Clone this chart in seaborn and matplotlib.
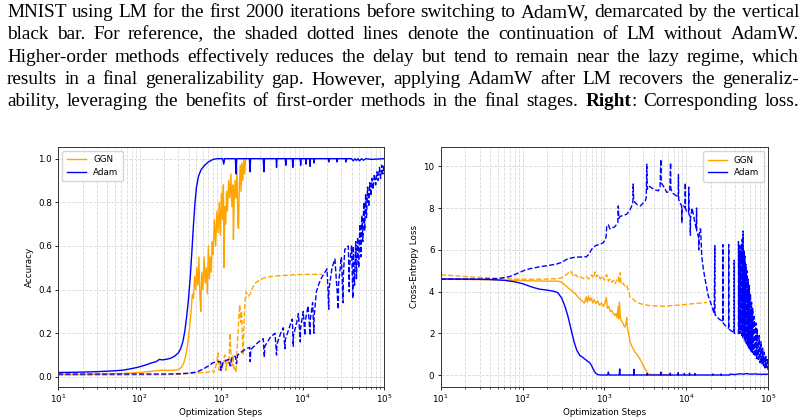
import matplotlib
matplotlib.use("Agg")
import matplotlib.pyplot as plt
import seaborn as sns

# ---------------- caption text ----------------
CAPTION_LINES = [
    "MNIST using LM for the first 2000 iterations before switching to AdamW, demarcated by the vertical",
    "black bar.  For reference, the shaded dotted lines denote the continuation of LM without AdamW.",
    "Higher-order methods effectively reduces the delay but tend to remain near the lazy regime, which",
    "results in a final generalizability gap. However, applying AdamW after LM recovers the generaliz-",
    "ability, leveraging the benefits of first-order methods in the final stages. **Right**: Corresponding loss.",
]
CAPTION_BASELINES = [17.0, 39.3, 61.6, 83.9, 106.2]

SERIES_NAMES = ["GGN", "Adam"]
SERIES_COLORS = ["orange", "blue"]

# ---------------- accuracy (left) ----------------
ADAM_ACC_X = [10, 15, 20, 30, 40, 50, 60, 70, 80, 90, 100, 120, 140, 160, 175, 190, 210, 240, 270, 300,
              320, 340, 360, 380, 400, 420, 440, 460, 480, 500, 530, 570, 630, 700, 800, 900,
              1050, 1080, 1110, 1500, 1530, 1560, 2230, 2270, 2310, 3300, 3360, 3420, 4750, 4800, 4870,
              6150, 6250, 6350, 7500, 7600, 7700, 9400, 9500, 9600, 10900, 11000, 11100, 12300, 12400, 12500,
              13700, 13800, 13900, 20800, 21000, 21200, 26300, 26500, 26700, 33700, 34000, 34300,
              40000, 42000, 44000, 46000, 48000, 50000, 53000, 56000, 60000, 70000, 100000]
ADAM_ACC_Y = [0.02, 0.021, 0.022, 0.024, 0.026, 0.028, 0.03, 0.034, 0.038, 0.042, 0.046, 0.055, 0.064, 0.07, 0.08, 0.078, 0.08, 0.085, 0.095, 0.11,
              0.13, 0.16, 0.21, 0.28, 0.36, 0.46, 0.58, 0.7, 0.8, 0.87, 0.92, 0.95, 0.97, 0.985, 0.997, 1.0,
              1.0, 0.975, 1.0, 1.0, 0.93, 1.0, 1.0, 0.94, 1.0, 1.0, 0.94, 1.0, 1.0, 0.96, 1.0,
              1.0, 0.97, 1.0, 1.0, 0.96, 1.0, 1.0, 0.97, 1.0, 1.0, 0.975, 1.0, 1.0, 0.965, 1.0,
              1.0, 0.98, 1.0, 1.0, 0.985, 1.0, 1.0, 0.985, 1.0, 1.0, 0.985, 1.0,
              1.0, 0.99, 1.0, 0.992, 1.0, 0.99, 1.0, 0.993, 1.0, 0.997, 1.0]

GGN_ACC_X = [10, 20, 40, 60, 80, 100, 130, 160, 190, 220, 260, 300, 330, 350, 370, 390, 410, 430, 445, 460,
             475, 490, 505, 520, 535, 550, 565, 580, 600, 620, 640, 660, 680, 700, 720, 740, 760, 780, 800,
             830, 860, 890, 920, 950, 980, 1010, 1040, 1070, 1090, 1110, 1140, 1170, 1200, 1240, 1280, 1320,
             1360, 1400, 1420, 1450, 1490, 1530, 1570, 1610, 1640, 1680, 1720, 1760, 1800, 1850, 1900, 1950, 2000]
GGN_ACC_Y = [0.01, 0.011, 0.013, 0.015, 0.018, 0.02, 0.024, 0.028, 0.031, 0.03, 0.03, 0.033, 0.045, 0.065, 0.1, 0.15, 0.22, 0.3, 0.38, 0.36,
             0.46, 0.4, 0.5, 0.42, 0.55, 0.38, 0.3, 0.48, 0.4, 0.55, 0.43, 0.5, 0.38, 0.6, 0.45, 0.55, 0.48, 0.62, 0.56,
             0.72, 0.6, 0.76, 0.66, 0.8, 0.65, 0.84, 0.72, 0.88, 0.5, 0.78, 0.7, 0.85, 0.76, 0.9, 0.82, 0.93,
             0.78, 0.88, 0.63, 0.8, 0.9, 0.82, 0.96, 0.7, 0.68, 0.88, 0.97, 0.85, 0.98, 0.9, 1.0, 0.93, 1.0]

GGN_ACC_LM_X = [10, 30, 100, 200, 300, 400, 500, 600, 700, 780, 820, 880, 920, 950, 1000, 1050, 1090, 1120, 1150,
                1200, 1250, 1290, 1320, 1360, 1400, 1450, 1490, 1530, 1570, 1620, 1660, 1700, 1740, 1790, 1830,
                1870, 1920, 1970, 2040, 2150, 2280, 2450, 2640, 3000, 3500, 4500, 6000, 8000, 11000, 14000, 17400]
GGN_ACC_LM_Y = [0.008, 0.008, 0.009, 0.01, 0.012, 0.015, 0.018, 0.02, 0.022, 0.03, 0.02, 0.06, 0.11, 0.03, 0.07, 0.04, 0.09, 0.1, 0.03,
                0.08, 0.06, 0.2, 0.12, 0.05, 0.1, 0.03, 0.04, 0.02, 0.12, 0.2, 0.28, 0.33, 0.25, 0.3, 0.18,
                0.1, 0.25, 0.35, 0.39, 0.37, 0.38, 0.41, 0.43, 0.445, 0.455, 0.462, 0.465, 0.468, 0.47, 0.47, 0.47]

ADAM_ACC_LM_X = [10, 50, 100, 200, 300, 400, 500, 600, 700, 800, 900, 980, 1000, 1050, 1150, 1250, 1300, 1350,
                 1500, 1550, 1600, 1800, 2050, 2250, 2280, 2320, 2700, 3000, 3300, 3400, 3450, 4000, 4600, 4800,
                 4850, 5400, 5800, 6100, 6150, 6800, 7500, 7700, 7750, 8500, 8900, 9400, 9450, 10200, 10700,
                 10750, 11700, 12400, 12450, 13300, 13800, 13850, 14800, 16000, 17200, 18500, 20000, 21000,
                 21100, 23000, 25000, 27500, 27600, 30000, 31500, 31600, 33000, 35000, 36500, 37500, 37600,
                 40000, 41500, 42000, 43500, 45000, 46000, 47500, 49000, 50500, 52000, 53500, 55000, 56500,
                 58000, 59500, 61000, 63000, 65000, 67000, 69000, 71000, 73500, 76000, 79000, 82000, 85000,
                 88000, 91000, 94000, 97000, 100000]
ADAM_ACC_LM_Y = [0.013, 0.013, 0.013, 0.013, 0.014, 0.017, 0.022, 0.035, 0.05, 0.065, 0.07, 0.07, 0.03, 0.065, 0.075, 0.08, 0.05, 0.085,
                 0.095, 0.06, 0.1, 0.115, 0.13, 0.135, 0.07, 0.125, 0.15, 0.165, 0.175, 0.09, 0.14, 0.18, 0.2, 0.1,
                 0.15, 0.2, 0.225, 0.13, 0.17, 0.22, 0.265, 0.14, 0.19, 0.25, 0.29, 0.16, 0.22, 0.3, 0.19,
                 0.25, 0.325, 0.19, 0.26, 0.34, 0.2, 0.27, 0.39, 0.43, 0.455, 0.475, 0.495, 0.31,
                 0.4, 0.5, 0.54, 0.31, 0.42, 0.55, 0.34, 0.45, 0.585, 0.59, 0.6, 0.39, 0.5,
                 0.6, 0.36, 0.6, 0.42, 0.62, 0.45, 0.64, 0.5, 0.7, 0.55, 0.74, 0.62, 0.8,
                 0.67, 0.84, 0.73, 0.87, 0.78, 0.89, 0.83, 0.91, 0.86, 0.93, 0.88, 0.94, 0.9,
                 0.96, 0.91, 0.97, 0.93, 0.97]

# ---------------- loss (right) ----------------
ADAM_LOSS_X = [10, 20, 40, 60, 80, 100, 130, 160, 200, 240, 270, 300, 330, 360, 400, 430, 460, 500, 550, 600,
               660, 700, 740, 780, 830, 900, 1100, 1120, 1140, 1520, 1540, 1560, 2280, 2300, 2320, 3300, 3330, 3360,
               4850, 4900, 4950, 6350, 6400, 6450, 7950, 8000, 8050, 9400, 9500, 9600, 10900, 11000, 11100,
               12700, 12800, 12900, 21000, 21200, 21400, 26500, 26700, 26900, 34000, 34300, 40000, 45000,
               50000, 55000, 60000, 70000, 80000, 100000]
ADAM_LOSS_Y = [4.6, 4.6, 4.58, 4.54, 4.47, 4.38, 4.22, 4.12, 4.07, 4.02, 3.95, 3.7, 3.3, 2.8, 2.05, 1.55, 1.2, 0.95, 0.84, 0.72,
               0.6, 0.45, 0.25, 0.1, 0.03, 0.01, 0.01, 0.15, 0.01, 0.01, 0.3, 0.01, 0.01, 0.28, 0.01, 0.01, 0.08, 0.01,
               0.01, 0.15, 0.01, 0.01, 0.1, 0.01, 0.01, 0.12, 0.01, 0.01, 0.08, 0.01, 0.01, 0.1, 0.01,
               0.01, 0.08, 0.01, 0.01, 0.06, 0.01, 0.01, 0.06, 0.01, 0.01, 0.05, 0.03, 0.07,
               0.05, 0.08, 0.05, 0.06, 0.04, 0.05]

GGN_LOSS_X = [10, 30, 60, 100, 150, 200, 270, 300, 330, 360, 400, 440, 480, 510, 540, 570, 600, 620, 640, 660,
              690, 720, 750, 790, 830, 870, 920, 970, 1020, 1060, 1090, 1130, 1180, 1230, 1290, 1340, 1390, 1430,
              1480, 1500, 1530, 1570, 1610, 1660, 1720, 1780, 1830, 1880, 1920, 1980, 2060, 2160, 2370, 2500,
              2700, 2880, 3000, 3160, 3300, 3480, 4000, 5000, 6500]
GGN_LOSS_Y = [4.6, 4.57, 4.55, 4.53, 4.51, 4.5, 4.5, 4.45, 4.32, 4.18, 4.05, 3.9, 3.72, 3.62, 3.55, 3.45, 3.75, 3.5, 3.8, 3.55,
              3.7, 3.45, 3.62, 3.42, 3.55, 3.35, 3.45, 3.3, 3.45, 3.72, 3.2, 3.3, 3.05, 3.1, 2.95, 2.85, 2.95, 2.75,
              3.3, 2.7, 3.5, 2.75, 2.6, 2.55, 2.4, 2.3, 2.45, 2.75, 2.2, 2.0, 1.6, 1.4, 1.1, 1.0,
              0.8, 0.6, 0.45, 0.29, 0.15, 0.05, 0.03, 0.02, 0.02]

GGN_LOSS_LM_X = [10, 15, 20, 30, 50, 80, 120, 200, 260, 300, 330, 360, 380, 400, 420, 450, 480, 520, 560, 605,
                 650, 700, 740, 770, 800, 850, 890, 940, 1000, 1070, 1120, 1180, 1240, 1290, 1350, 1420, 1480,
                 1520, 1560, 1600, 1700, 1780, 1870, 1950, 2060, 2160, 2300, 2500, 3000, 3600, 5200, 8400,
                 13400, 18000]
GGN_LOSS_LM_Y = [4.8, 4.76, 4.72, 4.68, 4.63, 4.6, 4.59, 4.6, 4.62, 4.66, 4.75, 4.88, 4.99, 4.9, 4.72, 4.8, 4.66, 4.7, 4.62, 4.72,
                 4.6, 4.8, 4.65, 4.94, 4.7, 4.82, 4.6, 4.75, 4.55, 4.82, 4.5, 4.6, 4.45, 4.55, 4.38, 4.55, 4.7,
                 4.4, 4.9, 4.35, 4.4, 4.25, 4.3, 4.1, 3.75, 3.7, 3.6, 3.48, 3.38, 3.33, 3.3, 3.36,
                 3.44, 3.48]

ADAM_LOSS_LM_X = [10, 30, 50, 70, 90, 110, 135, 170, 200, 262, 300, 348, 400, 460, 605, 650, 700, 780, 890, 975,
                  1050, 1070, 1120, 1170, 1340, 1460, 1480, 1500, 1560, 1870, 2050, 2160, 2230, 2250, 2280, 2370,
                  2550, 2750, 3000, 3160, 3250, 3300, 3340, 3480, 4000, 4570, 4800, 4900, 4950, 5250, 5800, 6300,
                  6450, 6500, 6900, 7500, 8000, 8040, 8100, 8400, 8800, 8850, 8900, 9300, 9700, 9750, 9800, 10200,
                  10700, 10750, 10800, 11200, 11250, 11300, 11800, 12800, 13300, 13400, 13450, 14200, 14250, 14300,
                  14800, 15000, 15500, 16200, 17000, 18600, 20400, 22000, 22400, 22500, 25000, 27200, 28000, 28100,
                  28200, 31600, 33000, 33100, 33200, 36400, 38500, 38600, 38700, 42000, 43500, 43600, 44200, 44800,
                  45400, 46000, 46600, 47200, 47800, 48400, 49000, 49600, 50200, 50800, 51500, 52200, 53000, 53800,
                  54600, 55400, 56300, 57200, 58100, 59000, 60000, 61000, 62000, 63000, 64000, 65000, 66500, 68000,
                  69500, 71000, 72500, 74000, 76000, 78000, 80000, 82000, 84000, 86000, 88000, 90000, 92000, 94000,
                  96000, 98000, 100000]
ADAM_LOSS_LM_Y = [4.6, 4.6, 4.62, 4.72, 4.9, 5.05, 5.13, 5.2, 5.24, 5.32, 5.4, 5.55, 5.62, 5.65, 5.67, 5.8, 6.03, 6.2, 6.27, 6.35,
                  6.6, 7.14, 7.2, 7.0, 7.1, 7.3, 8.1, 7.5, 7.6, 7.7, 7.9, 8.1, 8.2, 9.15, 8.4, 8.26,
                  8.15, 8.1, 8.25, 8.34, 8.5, 10.1, 8.9, 9.06, 8.9, 8.82, 9.0, 10.33, 9.2, 9.06, 8.75, 8.8,
                  10.17, 8.9, 8.7, 8.6, 8.5, 9.6, 8.4, 8.26, 8.1, 7.3, 8.0, 8.1, 8.0, 9.2, 8.0, 7.78,
                  7.8, 9.0, 7.7, 7.6, 6.7, 7.5, 8.0, 7.3, 7.0, 8.0, 6.9, 6.6, 6.0, 6.6,
                  7.0, 7.0, 5.7, 5.1, 4.6, 3.8, 3.35, 2.95, 6.2, 2.9, 2.7, 2.6, 2.55, 6.25,
                  2.5, 2.28, 2.25, 6.25, 2.2, 2.1, 2.05, 5.5, 2.0, 1.98, 2.0, 6.4, 2.1, 6.2,
                  2.0, 6.0, 2.1, 6.3, 1.9, 6.5, 1.8, 6.9, 1.9, 6.0, 1.7, 5.7, 1.6, 5.3,
                  1.5, 5.0, 1.4, 4.6, 1.3, 4.3, 1.25, 3.9, 1.15, 3.5, 1.1, 3.2, 1.0, 2.8,
                  0.9, 2.5, 0.8, 2.2, 0.75, 1.9, 0.6, 1.6, 0.55, 1.3, 0.45, 1.1, 0.35, 0.9,
                  0.3, 0.75, 0.25]

ACC_TICKS = [0.0, 0.2, 0.4, 0.6, 0.8, 1.0]
LOSS_TICKS = [0, 2, 4, 6, 8, 10]

# ---------------- figure ----------------
W, H = 807, 419
fig = plt.figure(figsize=(W / 100, H / 100), dpi=100)


def rect(l, t, r, b):
    return [l / W, 1 - b / H, (r - l) / W, (b - t) / H]


ax1 = fig.add_axes(rect(58, 146.7, 384, 386.7))
ax2 = fig.add_axes(rect(440.7, 147, 768, 386.7))

FS = 6.3
LW = 1.0


def draw(ax, x, y, color, ls, label=None):
    kw = dict(x=x, y=y, ax=ax, color=color, linestyle=ls, linewidth=LW,
              estimator=None, sort=False)
    if label:
        kw["label"] = label
    sns.lineplot(**kw)


# left: accuracy
draw(ax1, GGN_ACC_X, GGN_ACC_Y, SERIES_COLORS[0], "-", SERIES_NAMES[0])
draw(ax1, ADAM_ACC_X, ADAM_ACC_Y, SERIES_COLORS[1], "-", SERIES_NAMES[1])
draw(ax1, GGN_ACC_LM_X, GGN_ACC_LM_Y, SERIES_COLORS[0], "--")
draw(ax1, ADAM_ACC_LM_X, ADAM_ACC_LM_Y, SERIES_COLORS[1], "--")

# right: loss
draw(ax2, GGN_LOSS_X, GGN_LOSS_Y, SERIES_COLORS[0], "-", SERIES_NAMES[0])
draw(ax2, ADAM_LOSS_X, ADAM_LOSS_Y, SERIES_COLORS[1], "-", SERIES_NAMES[1])
draw(ax2, GGN_LOSS_LM_X, GGN_LOSS_LM_Y, SERIES_COLORS[0], "--")
draw(ax2, ADAM_LOSS_LM_X, ADAM_LOSS_LM_Y, SERIES_COLORS[1], "--")

for ax, ylab, ticks, ylim, loc in [
    (ax1, "Accuracy", ACC_TICKS, (-0.045, 1.055), "upper left"),
    (ax2, "Cross-Entropy Loss", LOSS_TICKS, (-0.55, 10.92), "upper right"),
]:
    ax.set_xscale("log")
    ax.set_xlim(10, 1e5)
    ax.set_ylim(*ylim)
    ax.set_yticks(ticks)
    if ax is ax1:
        ax.set_yticklabels([f"{t:.1f}" for t in ticks])
    ax.set_xlabel("Optimization Steps", fontsize=FS, labelpad=2)
    ax.set_ylabel(ylab, fontsize=FS, labelpad=3)
    ax.tick_params(axis="both", which="major", labelsize=FS, length=2.5, width=0.6, pad=2)
    ax.tick_params(axis="both", which="minor", length=1.5, width=0.5)
    ax.grid(True, which="major", axis="both", linestyle="--", color="#d8d8d8", linewidth=0.6)
    ax.grid(True, which="minor", axis="x", linestyle="--", color="#d8d8d8", linewidth=0.6)
    ax.set_axisbelow(True)
    for s in ax.spines.values():
        s.set_linewidth(0.7)
        s.set_color("#333333")
    ax.legend(loc=loc, fontsize=FS, handlelength=2.2, borderpad=0.5, labelspacing=0.4,
              framealpha=0.8, edgecolor="#cccccc")

# ---------------- justified caption ----------------
renderer = fig.canvas.get_renderer()
CAP_FONT = ["Liberation Serif", "DejaVu Serif"]
CAP_SIZE = 13.9
X_LEFT, X_RIGHT = 7, 799

for line, base in zip(CAPTION_LINES, CAPTION_BASELINES):
    words = line.split()
    groups = []
    for w in words:
        if w.startswith("**"):
            name, rest = w[2:].split("**")
            segs = [(name, "bold"), (rest, "normal")]
        else:
            segs = [(w, "normal")]
        objs = []
        for txt, weight in segs:
            t = fig.text(0, 1 - base / H, txt, family=CAP_FONT, fontsize=CAP_SIZE,
                         weight=weight, va="baseline", ha="left")
            objs.append(t)
        groups.append(objs)
    widths = []
    for objs in groups:
        ws = [o.get_window_extent(renderer).width for o in objs]
        widths.append(ws)
    total = sum(sum(ws) for ws in widths)
    n = len(groups)
    gap = (X_RIGHT - X_LEFT - total) / (n - 1)
    x = X_LEFT
    for objs, ws in zip(groups, widths):
        xx = x
        for o, w in zip(objs, ws):
            o.set_x(xx / W)
            xx += w
        x = xx + gap

fig.savefig("out.png", dpi=100)
